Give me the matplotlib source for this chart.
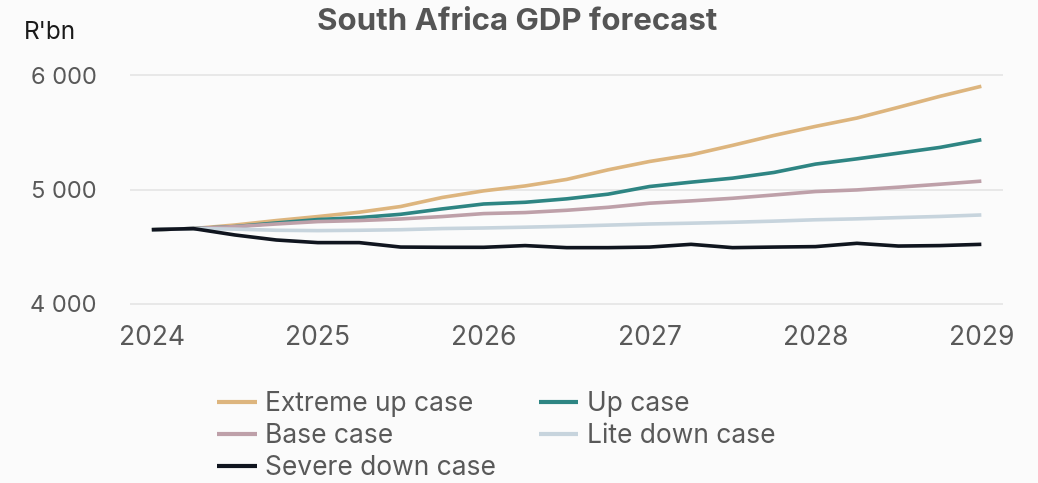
import numpy as np
import matplotlib
matplotlib.use("Agg")
import matplotlib.pyplot as plt

plt.rcParams['font.family'] = ['Inter', 'DejaVu Sans']

# Quarterly GDP forecast, R'bn, 2024Q1 .. 2029Q1
quarters = np.arange(21) * 0.25 + 2024

extreme_up = [4650, 4660, 4691, 4730, 4765, 4803, 4853, 4932, 4990, 5033, 5090,
              5174, 5247, 5305, 5388, 5475, 5554, 5627, 5721, 5817, 5905]
up_case = [4650, 4660, 4677, 4709, 4739, 4756, 4785, 4832, 4875, 4890, 4920,
           4961, 5028, 5066, 5101, 5151, 5224, 5270, 5320, 5370, 5437]
base_case = [4650, 4660, 4677, 4700, 4721, 4730, 4744, 4765, 4791, 4800, 4820,
             4846, 4882, 4902, 4925, 4954, 4984, 4998, 5022, 5048, 5075]
lite_down = [4650, 4660, 4655, 4645, 4642, 4645, 4650, 4660, 4665, 4672, 4680,
             4690, 4700, 4707, 4715, 4725, 4737, 4745, 4756, 4766, 4779]
severe_down = [4650, 4660, 4604, 4560, 4537, 4537, 4498, 4496, 4496, 4511, 4493,
               4493, 4498, 4522, 4493, 4498, 4502, 4531, 4507, 4511, 4522]

series_names = ["Extreme up case", "Up case", "Base case", "Lite down case", "Severe down case"]
series_values = [extreme_up, up_case, base_case, lite_down, severe_down]
series_colors = ["#DDB57E", "#2E8583", "#BEA0A9", "#C7D4DD", "#10151F"]

year_ticks = [2024, 2025, 2026, 2027, 2028, 2029]
value_ticks = [4000, 5000, 6000]
value_labels = ["4 000", "5 000", "6 000"]

bg = "#FBFBFB"
fig = plt.figure(figsize=(10.38, 4.83), dpi=100, facecolor=bg)
ax = fig.add_axes([0.1252, 0.3588, 0.8410, 0.5087], facecolor=bg)

handles = {}
for name, vals, col in zip(series_names, series_values, series_colors):
    (h,) = ax.plot(quarters, vals, color=col, lw=2.6, solid_capstyle="butt", zorder=3)
    handles[name] = h

ax.set_xlim(2023.868, 2029.13)
ax.set_ylim(3950, 6100)
ax.set_xticks(year_ticks)
ax.set_xticklabels([str(y) for y in year_ticks])
ax.set_yticks(value_ticks)
ax.set_yticklabels(value_labels)
ax.grid(axis="y", color="#E6E6E6", lw=1.3, zorder=0)
ax.grid(axis="x", visible=False)
for s in ax.spines.values():
    s.set_visible(False)
ax.tick_params(axis="both", length=0, colors="#595959")
ax.tick_params(axis="x", pad=11, labelsize=19)
ax.tick_params(axis="y", pad=24, labelsize=17)

fig.text(0.4986, 0.955, "South Africa GDP forecast", ha="center", va="center",
         fontsize=22.5, fontweight="bold", color="#555555")
fig.text(0.023, 0.932, "R'bn", ha="left", va="center", fontsize=17.5, color="#1A1A1A")

order = ["Extreme up case", "Base case", "Severe down case", "Up case", "Lite down case"]
leg = fig.legend([handles[n] for n in order], order, ncol=2, loc="upper left",
                 bbox_to_anchor=(0.209, 0.191), frameon=False, fontsize=19,
                 handlelength=1.5, handletextpad=0.34, columnspacing=1.6,
                 labelspacing=0.24, borderpad=0, borderaxespad=0)
for t in leg.get_texts():
    t.set_color("#595959")
for l in leg.get_lines():
    l.set_linewidth(3)

fig.savefig("out.png", dpi=100, facecolor=bg)
